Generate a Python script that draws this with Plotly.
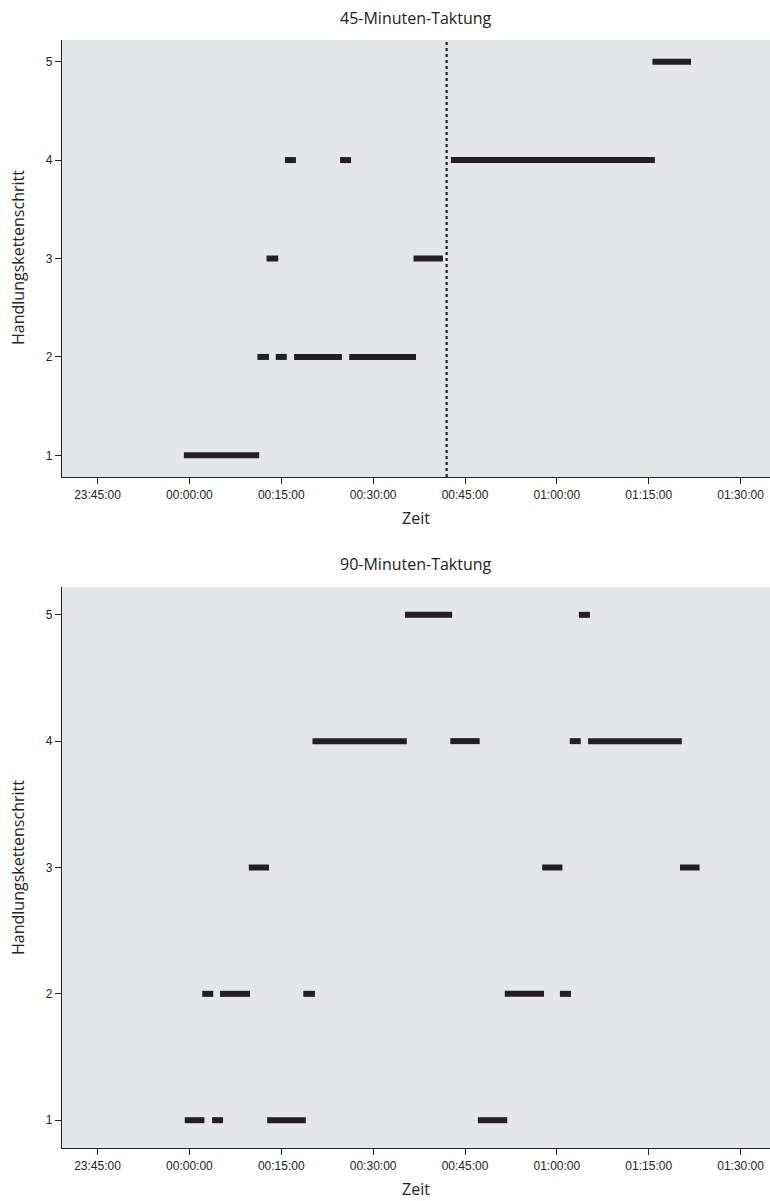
import plotly.graph_objects as go

# Tick labels (minutes relative to 00:00:00)
tick_vals = [-15, 0, 15, 30, 45, 60, 75, 90]
tick_text = ["23:45:00", "00:00:00", "00:15:00", "00:30:00",
             "00:45:00", "01:00:00", "01:15:00", "01:30:00"]
y_ticks = [1, 2, 3, 4, 5]

# 45-Minuten-Taktung: segments (step, start min, end min)
top_steps = [1, 2, 2, 2, 2, 3, 3, 4, 4, 4, 5]
top_start = [-0.9, 11.1, 14.1, 17.1, 26.1, 12.6, 36.6, 15.6, 24.6, 42.7, 75.6]
top_end = [11.4, 13.0, 15.9, 24.9, 37.0, 14.5, 41.4, 17.4, 26.4, 76.0, 81.9]
top_marker_line = 42.0

# 90-Minuten-Taktung
bot_steps = [1, 1, 1, 1, 2, 2, 2, 2, 2, 3, 3, 3, 4, 4, 4, 4, 5, 5]
bot_start = [-0.75, 3.7, 12.7, 47.1, 2.1, 5.0, 18.6, 51.5, 60.5, 9.7, 57.6, 80.1,
             20.1, 42.6, 62.1, 65.1, 35.2, 63.6]
bot_end = [2.45, 5.5, 19.0, 51.9, 3.9, 9.9, 20.5, 57.9, 62.3, 13.0, 60.9, 83.3,
           35.5, 47.4, 63.9, 80.4, 42.9, 65.4]

W, H = 770, 1201
BAR = "#231f20"
BG = "#e5e6e8"


def seg_xy(steps, starts, ends):
    xs, ys = [], []
    for k, s, e in zip(steps, starts, ends):
        xs += [s, e, None]
        ys += [k, k, None]
    return xs, ys


fig = go.Figure()
x1, y1 = seg_xy(top_steps, top_start, top_end)
fig.add_trace(go.Scatter(x=x1, y=y1, mode="lines", xaxis="x", yaxis="y",
                         line=dict(color=BAR, width=6), showlegend=False,
                         hoverinfo="skip"))
fig.add_trace(go.Scatter(x=[top_marker_line, top_marker_line], y=[0.78, 5.22],
                         mode="lines", xaxis="x", yaxis="y",
                         line=dict(color=BAR, width=2.2, dash="dot"),
                         showlegend=False, hoverinfo="skip"))
x2, y2 = seg_xy(bot_steps, bot_start, bot_end)
fig.add_trace(go.Scatter(x=x2, y=y2, mode="lines", xaxis="x2", yaxis="y2",
                         line=dict(color=BAR, width=6), showlegend=False,
                         hoverinfo="skip"))


def px_y(p):
    return 1 - p / H


xl = 62 / W
tickfont = dict(family="Liberation Sans, Arial, sans-serif", size=12, color="#222")
xcommon = dict(range=[-20.8, 94.8], tickvals=tick_vals, ticktext=tick_text,
               showgrid=False, zeroline=False, showline=True, linecolor="#222",
               linewidth=1.2, ticks="outside", ticklen=6, tickcolor="#222",
               tickfont=tickfont, domain=[xl, 1.0], mirror=False)
ycommon = dict(range=[0.78, 5.22], tickvals=y_ticks, showgrid=False,
               zeroline=False, showline=True, linecolor="#222", linewidth=1.2,
               ticks="outside", ticklen=6, tickcolor="#222", tickfont=tickfont)

fig.update_layout(
    width=W, height=H, margin=dict(l=0, r=0, t=0, b=0),
    paper_bgcolor="white", plot_bgcolor=BG,
    xaxis=dict(**xcommon, anchor="y"),
    yaxis=dict(**ycommon, anchor="x", domain=[px_y(477), px_y(40)]),
    xaxis2=dict(**xcommon, anchor="y2"),
    yaxis2=dict(**ycommon, anchor="x2", domain=[px_y(1148), px_y(587)]),
)

tfont = dict(family="Open Sans, Noto Sans, sans-serif", size=16, color="#222")
ann = [
    dict(text="45-Minuten-Taktung", x=(62 + 770) / 2 / W, y=px_y(18)),
    dict(text="Zeit", x=(62 + 770) / 2 / W, y=px_y(518)),
    dict(text="90-Minuten-Taktung", x=(62 + 770) / 2 / W, y=px_y(564)),
    dict(text="Zeit", x=(62 + 770) / 2 / W, y=px_y(1189)),
    dict(text="Handlungskettenschritt", x=18 / W, y=px_y(258), textangle=-90),
    dict(text="Handlungskettenschritt", x=18 / W, y=px_y(868), textangle=-90),
]
for a in ann:
    fig.add_annotation(xref="paper", yref="paper", showarrow=False,
                       xanchor="center", yanchor="middle",
                       font=tfont, **a)

fig.write_html(
    "out.html",
    config={"displayModeBar": False},
    post_script="document.body.style.margin='0';document.body.style.overflow='hidden';",
)
